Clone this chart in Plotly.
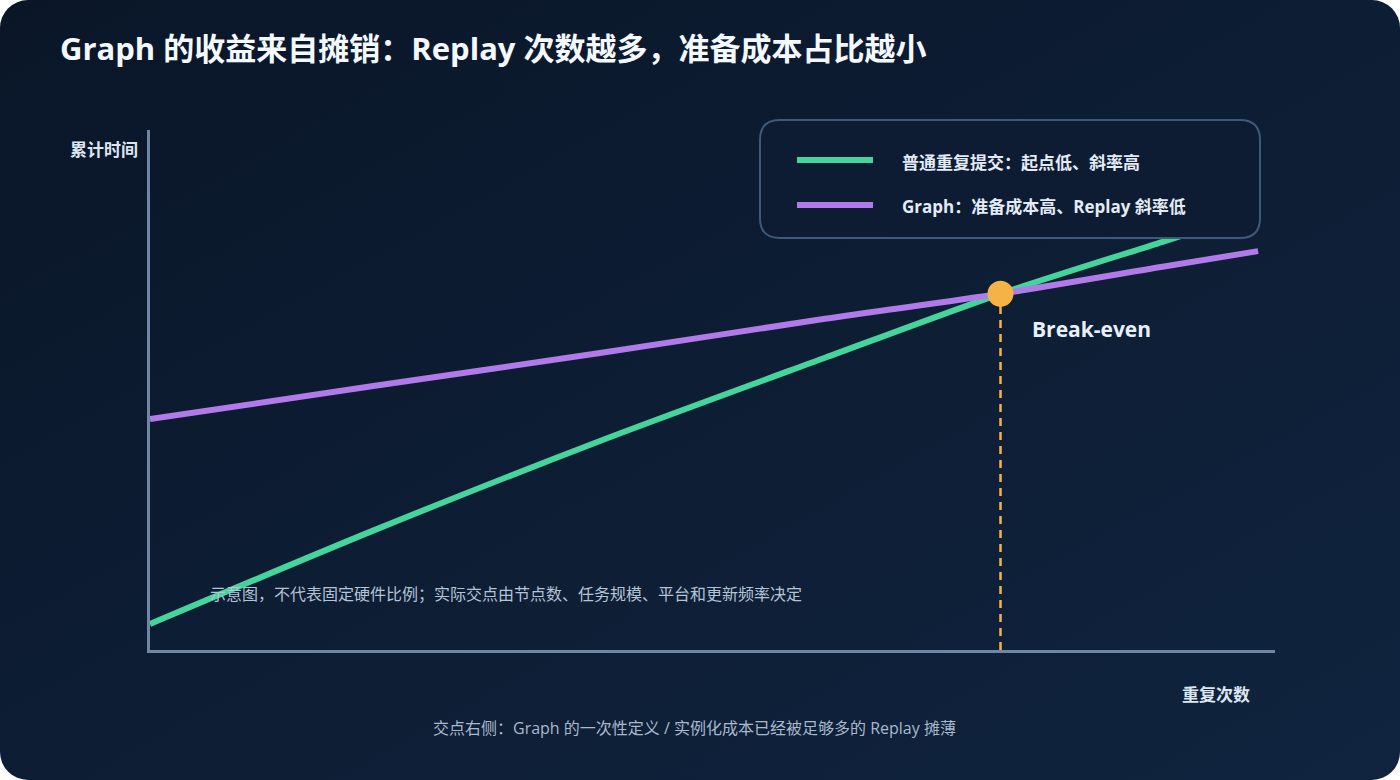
import base64
import plotly.graph_objects as go

W, H = 1400, 780

# values (x: 重复次数, y: 累计时间, arbitrary units)
repeat_x = [0, 2, 4, 6, 7.56, 9, 9.85]
normal_time = [0.5, 2.31, 4.02, 5.62, 6.85, 7.85, 8.44]
graph_time = [4.44, 5.08, 5.71, 6.37, 6.85, 7.37, 7.67]
breakeven_x = [7.56]
breakeven_y = [6.85]

legend_labels = ["普通重复提交：起点低、斜率高", "Graph：准备成本高、Replay 斜率低"]
line_colors = ["#45d49b", "#b07be8"]
accent = "#f5b347"
FONT = "Open Sans, Noto Sans CJK SC"


def px(x):
    return x / W


def py(y):
    return 1 - y / H


def round_box(x0, y0, x1, y1, r):
    # rounded rectangle path in paper coords, input in pixels
    rx, ry = r / W, r / H
    a, b, c, d = px(x0), py(y1), px(x1), py(y0)
    return (f"M {a + rx},{b} L {c - rx},{b} Q {c},{b} {c},{b + ry} "
            f"L {c},{d - ry} Q {c},{d} {c - rx},{d} L {a + rx},{d} "
            f"Q {a},{d} {a},{d - ry} L {a},{b + ry} Q {a},{b} {a + rx},{b} Z")


bg_svg = (
    "<svg xmlns='http://www.w3.org/2000/svg' width='1400' height='780'>"
    "<defs><linearGradient id='g' x1='0' y1='0' x2='1' y2='1'>"
    "<stop offset='0' stop-color='#0a1628'/><stop offset='1' stop-color='#10243f'/>"
    "</linearGradient></defs>"
    "<rect width='1400' height='780' rx='28' ry='28' fill='url(#g)'/></svg>"
)
bg_uri = "data:image/svg+xml;base64," + base64.b64encode(bg_svg.encode()).decode()

fig = go.Figure()

fig.add_trace(go.Scatter(
    x=[breakeven_x[0], breakeven_x[0]], y=[0, breakeven_y[0]], mode="lines",
    line=dict(color=accent, width=2.5, dash="8px,6px"), hoverinfo="skip"))
fig.add_trace(go.Scatter(
    x=repeat_x, y=normal_time, mode="lines", name=legend_labels[0],
    line=dict(color=line_colors[0], width=6, shape="spline", smoothing=0.8)))
fig.add_trace(go.Scatter(
    x=repeat_x, y=graph_time, mode="lines", name=legend_labels[1],
    line=dict(color=line_colors[1], width=6, shape="spline", smoothing=0.8)))
fig.add_trace(go.Scatter(
    x=breakeven_x, y=breakeven_y, mode="markers",
    marker=dict(color=accent, size=26, line=dict(width=0)), hoverinfo="skip"))

shapes = [dict(type="path", xref="paper", yref="paper",
               path=round_box(760, 120, 1260, 238, 20),
               fillcolor="#0d1c32", line=dict(color="#3e5a7a", width=2))]
for i, col in enumerate(line_colors):
    yy = py(160 + 45 * i)
    shapes.append(dict(type="line", xref="paper", yref="paper",
                       x0=px(797), x1=px(873), y0=yy, y1=yy,
                       line=dict(color=col, width=6)))

annotations = [
    dict(text="<b>Graph 的收益来自摊销：Replay 次数越多，准备成本占比越小</b>",
         x=px(58), y=py(48), xanchor="left", font=dict(size=31, color="#f4f8ff")),
    dict(text="<b>累计时间</b>", x=px(68), y=py(149), xanchor="left",
         font=dict(size=17, color="#dce6f2")),
    dict(text="<b>重复次数</b>", x=px(1252), y=py(694), xanchor="right",
         font=dict(size=17, color="#dce6f2")),
    dict(text="<b>Break-even</b>", x=px(1030), y=py(329), xanchor="left",
         font=dict(size=21, color="#e8f0fb")),
    dict(text="示意图，不代表固定硬件比例；实际交点由节点数、任务规模、平台和更新频率决定",
         x=px(208), y=py(594), xanchor="left", font=dict(size=16, color="#b4c3d6")),
    dict(text="交点右侧：Graph 的一次性定义 / 实例化成本已经被足够多的 Replay 摊薄",
         x=px(694), y=py(728), xanchor="center", font=dict(size=16, color="#a9b9cc")),
]
for i, lab in enumerate(legend_labels):
    annotations.append(dict(text=f"<b>{lab}</b>", x=px(900), y=py(162 + 45 * i),
                            xanchor="left", font=dict(size=17, color="#e3ebf6")))
for a in annotations:
    a.update(xref="paper", yref="paper", yanchor="middle", showarrow=False)

fig.update_layout(
    width=W, height=H, margin=dict(l=0, r=0, t=0, b=0),
    paper_bgcolor="white", plot_bgcolor="rgba(0,0,0,0)",
    font=dict(family=FONT), showlegend=False,
    images=[dict(source=bg_uri, xref="paper", yref="paper", x=0, y=1,
                 sizex=1, sizey=1, sizing="stretch", layer="below")],
    shapes=shapes, annotations=annotations,
    xaxis=dict(domain=[px(150), px(1275)], range=[0, 10], showline=True,
               linecolor="#6f87a3", linewidth=3, showgrid=False, zeroline=False,
               showticklabels=False, ticks=""),
    yaxis=dict(domain=[py(650), py(130)], range=[0, 10], showline=True,
               linecolor="#6f87a3", linewidth=3, showgrid=False, zeroline=False,
               showticklabels=False, ticks=""),
)

fig.write_html("out.html", config={"displayModeBar": False},
               post_script="document.body.style.margin='0';")
